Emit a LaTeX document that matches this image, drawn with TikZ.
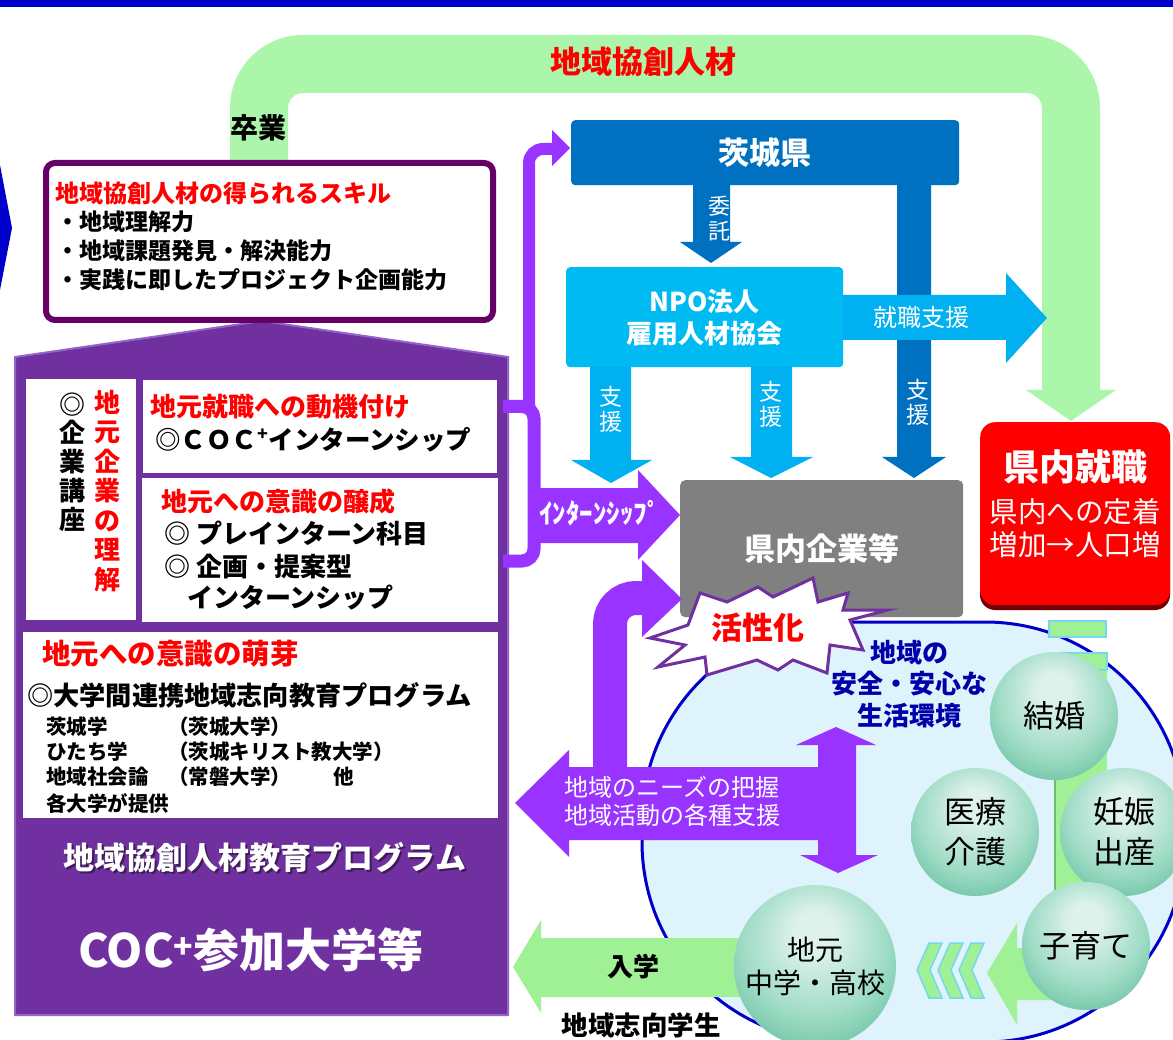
\documentclass[tikz,border=0pt]{standalone}
\usepackage{fontspec}
\setmainfont{Noto Sans CJK JP}
\newcommand\fsz[1]{\fontsize{#1}{#1}\selectfont}
\newcommand\fszl[2]{\fontsize{#1}{#2}\selectfont}
\definecolor{topblue}{RGB}{0,0,204}
\definecolor{housep}{RGB}{112,48,160}
\definecolor{houseedge}{RGB}{150,100,200}
\definecolor{skillb}{RGB}{102,0,102}
\definecolor{pipep}{RGB}{153,51,255}
\definecolor{grn}{RGB}{172,246,172}
\definecolor{grnb}{RGB}{160,240,150}
\definecolor{grnedge}{RGB}{110,190,110}
\definecolor{ibablue}{RGB}{0,112,192}
\definecolor{npoblue}{RGB}{0,186,242}
\definecolor{ltblue}{RGB}{0,176,240}
\definecolor{greybox}{RGB}{128,128,128}
\definecolor{redbox}{RGB}{255,0,0}
\definecolor{ellfill}{RGB}{222,243,252}
\definecolor{ellline}{RGB}{0,0,200}
\definecolor{navy}{RGB}{0,0,170}
\definecolor{redtxt}{RGB}{255,0,0}
\definecolor{sphhi}{RGB}{222,242,236}
\definecolor{sphmid}{RGB}{160,220,198}
\definecolor{sphlo}{RGB}{112,196,166}
\definecolor{chevb}{RGB}{120,215,240}
\pgfdeclareradialshading{gsphere}{\pgfpoint{0bp}{12bp}}{color(0bp)=(sphhi); color(6bp)=(sphhi); color(22bp)=(sphmid); color(32bp)=(sphlo); color(50bp)=(sphlo)}
\begin{document}
\begin{tikzpicture}[x=1pt,y=-1pt,
  lbl/.style={inner sep=0, anchor=west},
  ctr/.style={inner sep=0, anchor=center},
  wbox/.style={rectangle, fill=white, inner sep=0, anchor=north west},
  sph/.style={circle, minimum size=128, inner sep=0, shade, shading=gsphere, align=center, font=\fszl{31}{40}},
  bluebox/.style={rectangle, rounded corners=4, inner sep=0, anchor=north west, text=white, align=center}]
\useasboundingbox (0,0) rectangle (1173,1040);
\fill[white] (0,0) rectangle (1173,1040);
% top band and left chevron fragment
\fill[topblue] (0,0) rectangle (1173,7);
\fill[topblue] (0,165) -- (12,228) -- (0,290) -- cycle;
% big green arrow
\draw[grn, line width=58, rounded corners=44] (259,175) -- (259,64) -- (1071,64) -- (1071,392);
\fill[grn] (1026,390) -- (1116,390) -- (1071,421) -- cycle;
% region ellipse
\draw[ellline, line width=3, fill=ellfill, rounded corners=200] (642,622) rectangle (1185,1042);
% green bar and small rects
\fill[grnb] (1054,660) rectangle (1107,960);
\draw[grnedge, line width=2] (1055,660) -- (1055,960);
\filldraw[fill=grnb, draw=chevb, line width=1.5] (1049,621) rectangle (1106,637);
\filldraw[fill=grnb, draw=chevb, line width=1.5] (1049,653) rectangle (1107,670);
% bottom green arrows
\fill[grnb] (513,967) -- (541,920) -- (541,938) -- (780,938) -- (780,997) -- (541,997) -- (541,1013) -- cycle;
\fill[grnb] (987,973) -- (1017,923) -- (1017,948) -- (1090,948) -- (1090,1000) -- (1017,1000) -- (1017,1025) -- cycle;
\foreach \cx in {917,938,959}
  \filldraw[fill=grnb, draw=chevb, line width=1.5] (\cx,970) -- (\cx+12,943) -- (\cx+25,943) -- (\cx+13,970) -- (\cx+25,998) -- (\cx+12,998) -- cycle;
% spheres
\node[sph] (kekkon) at (1054,716) {結婚};
\node[sph] (iryo) at (975,832) {医療\\介護};
\node[sph] (ninshin) at (1124,832) {妊娠\\出産};
\node[sph] (kosodate) at (1086,946) {子育て};
\node[sph, minimum size=162, font=\fszl{28}{33}] (jimoto) at (815,966) {地元\\中学・高校};
% house
\filldraw[fill=housep, draw=houseedge, line width=2] (15,357) -- (262,321) -- (508,357) -- (508,1015) -- (15,1015) -- cycle;
\node[wbox, minimum width=110, minimum height=241] (boxL) at (26,379) {};
\node[wbox, minimum width=354, minimum height=93] (boxA) at (143,380) {};
\node[wbox, minimum width=356, minimum height=144] (boxB) at (142,478) {};
\node[wbox, minimum width=475, minimum height=186] (boxC) at (23,632) {};
\node[ctr, align=center, font=\bfseries\fszl{26}{28.7}] (kigyokoza) at (72,462) {◎\\企\\業\\講\\座};
\node[ctr, align=center, text=redtxt, font=\bfseries\fszl{26}{29.5}] (rikai) at (107,491) {地\\元\\企\\業\\の\\理\\解};
\node[lbl, text=redtxt, font=\bfseries\fsz{26}] (dokizuke) at (150,407) {地元就職への動機付け};
\node[lbl, font=\bfseries\fsz{25.5}] (cocintern) at (155,440) {◎ＣＯＣ\textsuperscript{+}インターンシップ};
\node[lbl, text=redtxt, font=\bfseries\fsz{26}] (jousei) at (161,502) {地元への意識の醸成};
\node[lbl, font=\bfseries\fsz{26}] (prein) at (164,533) {◎ プレインターン科目};
\node[lbl, font=\bfseries\fsz{26}] (kikaku) at (164,567) {◎ 企画・提案型};
\node[lbl, font=\bfseries\fsz{26}] (intern2) at (187,598) {インターンシップ};
\node[lbl, text=redtxt, font=\bfseries\fsz{28.5}] (houga) at (42,654) {地元への意識の萌芽};
\node[lbl, font=\bfseries\fsz{26.2}] (renkei) at (27,695) {◎大学間連携地域志向教育プログラム};
\node[lbl, font=\bfseries\fsz{20.5}] (c1a) at (46,727) {茨城学};
\node[lbl, font=\bfseries\fsz{20.5}] (c1b) at (168,727) {（茨城大学）};
\node[lbl, font=\bfseries\fsz{20.5}] (c2a) at (46,752) {ひたち学};
\node[lbl, font=\bfseries\fsz{20.5}] (c2b) at (168,752) {（茨城キリスト教大学）};
\node[lbl, font=\bfseries\fsz{20.5}] (c3a) at (46,777) {地域社会論};
\node[lbl, font=\bfseries\fsz{20.5}] (c3b) at (168,777) {（常磐大学）};
\node[lbl, font=\bfseries\fsz{20.5}] (c3c) at (333,777) {他};
\node[lbl, font=\bfseries\fsz{20.5}] (c4a) at (46,803) {各大学が提供};
\node[ctr, text=housep!55!black, font=\bfseries\fsz{31}] (kyoikush) at (267,859) {地域協創人材教育プログラム};
\node[ctr, text=white, font=\bfseries\fsz{31}] (kyoiku) at (265,857) {地域協創人材教育プログラム};
\node[ctr, text=white, font=\bfseries\fsz{46}] (coc) at (251,950) {COC\textsuperscript{+}参加大学等};
% skill box
\node[rectangle, draw=skillb, line width=6, fill=white, rounded corners=9, minimum width=447, minimum height=157, anchor=north west, inner sep=0] (skill) at (43,160) {};
\node[lbl, text=redtxt, font=\bfseries\fsz{24}] (sk0) at (55,193) {地域協創人材の得られるスキル};
\node[lbl, font=\bfseries\fsz{23}] (sk1) at (56,222) {・地域理解力};
\node[lbl, font=\bfseries\fsz{23}] (sk2) at (56,251) {・地域課題発見・解決能力};
\node[lbl, font=\bfseries\fsz{23}] (sk3) at (56,280) {・実践に即したプロジェクト企画能力};
\node[lbl, font=\bfseries\fsz{28}] (sotsugyo) at (230,128) {卒業};
\node[ctr, text=redtxt, font=\bfseries\fsz{31}] (kyoso) at (643,62) {地域協創人材};
% blue boxes and arrows
\node[bluebox, fill=ibablue, minimum width=388, minimum height=65, font=\bfseries\fsz{31}] (ibaraki) at (571,120) {茨城県};
\fill[ibablue] (693,185) -- (730,185) -- (730,242) -- (742,242) -- (711,263) -- (680,242) -- (693,242) -- cycle;
\fill[ibablue] (897,185) -- (931,185) -- (931,457) -- (946,457) -- (914,478) -- (882,457) -- (897,457) -- cycle;
\node[bluebox, fill=npoblue, minimum width=277, minimum height=100, font=\bfseries\fszl{26}{32}] (npo) at (566,267) {NPO法人\\雇用人材協会};
\fill[ltblue] (590,367) -- (631,367) -- (631,460) -- (652,460) -- (611,483) -- (571,460) -- (590,460) -- cycle;
\fill[ltblue] (751,367) -- (792,367) -- (792,457) -- (813,457) -- (771,478) -- (730,457) -- (751,457) -- cycle;
\fill[ltblue] (843,295) -- (1006,295) -- (1006,273) -- (1047,318) -- (1006,363) -- (1006,340) -- (843,340) -- cycle;
\node[ctr, text=white, align=center, font=\fszl{22}{25}] (itaku) at (719,219) {委\\託};
\node[ctr, text=white, align=center, font=\fszl{23}{25}] (shien1) at (611,409) {支\\援};
\node[ctr, text=white, align=center, font=\fszl{23}{25}] (shien2) at (771,404) {支\\援};
\node[ctr, text=white, align=center, font=\fszl{23}{25}] (shien3) at (918,402) {支\\援};
\node[ctr, text=white, font=\fsz{24}] (shushokushien) at (921,317) {就職支援};
% grey and red boxes
\node[bluebox, fill=greybox, rounded corners=5, minimum width=283, minimum height=137, font=\bfseries\fsz{31}] (kigyo) at (680,480) {県内企業等};
\fill[red!45!black, rounded corners=15] (980,427) rectangle (1170,610);
\node[bluebox, fill=redbox, rounded corners=15, minimum width=190, minimum height=183] (shushoku) at (980,422) {};
\node[ctr, text=white, font=\bfseries\fsz{36}] (kn1) at (1075,467) {県内就職};
\node[ctr, text=white, font=\fsz{28.5}] (kn2) at (1075,512) {県内への定着};
\node[ctr, text=white, font=\fsz{28.5}] (kn3) at (1075,545) {増加→人口増};
% purple pipes and arrows
\draw[pipep, line width=12, rounded corners=14] (529,410) -- (529,149) -- (554,149);
\fill[pipep] (552,130) -- (570,148) -- (552,166) -- cycle;
\draw[pipep, line width=13, rounded corners=12] (503,406.5) -- (534,406.5) -- (534,561) -- (503,561);
\fill[pipep] (534,488) -- (638,488) -- (638,470) -- (680,515) -- (638,560) -- (638,543) -- (534,543) -- cycle;
\node[ctr, text=white, font=\bfseries\fsz{27}] (internlbl) at (600,513) {ｲﾝﾀｰﾝｼｯﾌﾟ};
\draw[pipep, line width=34, rounded corners=26] (610,785) -- (610,598) -- (645,598);
\fill[pipep] (642,560) -- (682,599) -- (642,637) -- cycle;
\fill[pipep] (515,803) -- (569,750) -- (569,767) -- (818,767) -- (818,745) -- (796,745) -- (836,727) -- (876,745) -- (856,745) -- (856,855) -- (878,855) -- (838,873) -- (800,855) -- (818,855) -- (818,840) -- (569,840) -- (569,857) -- cycle;
\node[ctr, text=white, align=center, font=\fszl{24}{28}] (needs) at (672,801) {地域のニーズの把握\\地域活動の各種支援};
% star
\filldraw[fill=white, draw=housep, line width=3] (650,638) -- (688,625) -- (700,593) -- (727,602) -- (758,587) -- (773,597) -- (813,578) -- (818,602) -- (848,593) -- (843,610) -- (888,610) -- (850,620) -- (863,650) -- (830,645) -- (827,673) -- (793,660) -- (778,670) -- (757,660) -- (707,675) -- (705,657) -- (658,667) -- (685,645) -- cycle;
\node[ctr, text=redtxt, font=\bfseries\fsz{31}] (kasseika) at (758,628) {活性化};
\node[ctr, text=navy, align=center, font=\bfseries\fszl{26}{31.5}] (anzen) at (909,684) {地域の\\安全・安心な\\生活環境};
\node[ctr, font=\bfseries\fsz{26}] (nyugaku) at (633,967) {入学};
\node[ctr, font=\bfseries\fsz{26.5}] (shiko) at (641,1025) {地域志向学生};
\end{tikzpicture}
\end{document}
